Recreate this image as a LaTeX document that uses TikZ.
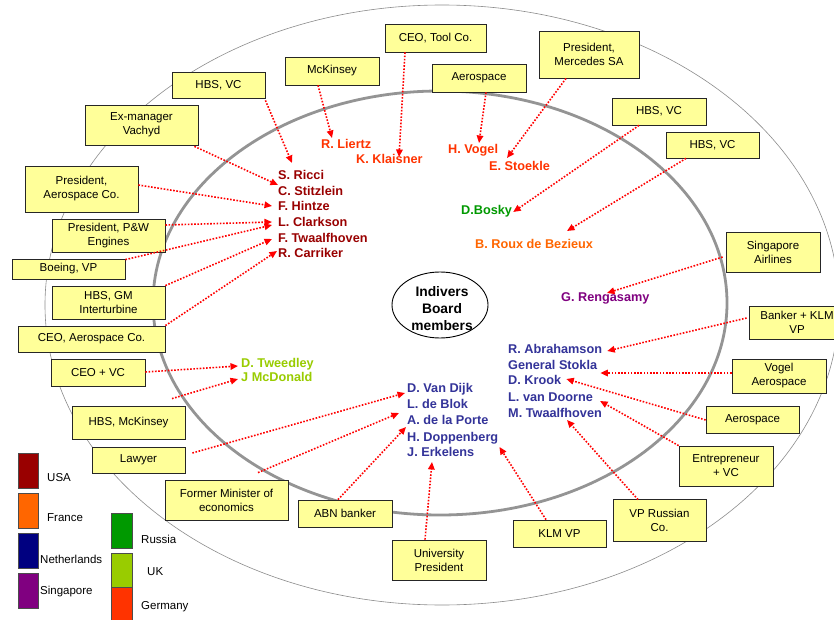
\documentclass[tikz,border=0pt]{standalone}
\usepackage{fontspec}
\setmainfont{Liberation Sans}
\usetikzlibrary{arrows.meta,calc}

\definecolor{boxyellow}{HTML}{FFFF99}
\definecolor{cUSA}{HTML}{990000}
\definecolor{cFrance}{HTML}{FF6600}
\definecolor{cNL}{HTML}{000080}
\definecolor{cNLtext}{HTML}{333399}
\definecolor{cSG}{HTML}{800080}
\definecolor{cRU}{HTML}{009900}
\definecolor{cUK}{HTML}{99CC00}
\definecolor{cDE}{HTML}{FF3300}

\tikzset{
  box/.style={draw=black!85, line width=0.8pt, fill=boxyellow, align=center,
    inner sep=1pt, font=\fontsize{11.5}{14}\selectfont},
  member/.style={anchor=west, inner sep=0pt, text height=9pt, text depth=0pt,
    font=\fontsize{12.7}{15}\selectfont\bfseries},
  link/.style={draw=red, line width=1.6pt, dash pattern=on 1.6pt off 1.6pt,
    -{Triangle[length=7.5pt,width=6.5pt]}},
  swatch/.style={draw=black!70, line width=0.6pt, minimum width=20, minimum height=35, inner sep=0pt},
  legendtext/.style={anchor=west, inner sep=0pt, font=\fontsize{11.5}{14}\selectfont}
}

\begin{document}
\begin{tikzpicture}[x=1pt,y=-1pt]
\useasboundingbox (0,0) rectangle (834,620);
\fill[white] (0,0) rectangle (834,620);

% rings
\draw[black!45, line width=0.6pt] (442,305) ellipse [x radius=397, y radius=300];
\draw[black!42, line width=2.8pt] (440,303) ellipse [x radius=287, y radius=212];
\draw[black, line width=0.9pt] (440,305) ellipse [x radius=48, y radius=33];
\node[align=center, inner sep=0pt, font=\fontsize{13.8}{17}\selectfont\bfseries] (core) at (442,309) {Indivers\\Board\\members};

% board members: USA
\node[member, text=cUSA] (ricci) at (278,175) {S. Ricci};
\node[member, text=cUSA] (stitz) at (278,191) {C. Stitzlein};
\node[member, text=cUSA] (hintze) at (278,206) {F. Hintze};
\node[member, text=cUSA] (clark) at (278,222) {L. Clarkson};
\node[member, text=cUSA] (ftwaal) at (278,238) {F. Twaalfhoven};
\node[member, text=cUSA] (carr) at (278,253) {R. Carriker};
% Germany
\node[member, text=cDE] (liertz) at (321,144) {R. Liertz};
\node[member, text=cDE] (klais) at (356,159) {K. Klaisner};
\node[member, text=cDE] (vogel) at (448,149) {H. Vogel};
\node[member, text=cDE] (stoek) at (489,166) {E. Stoekle};
% Russia, France, Singapore
\node[member, text=cRU] (bosky) at (461,210) {D.Bosky};
\node[member, text=cFrance] (roux) at (475,244) {B. Roux de Bezieux};
\node[member, text=cSG] (reng) at (561,297) {G. Rengasamy};
% Netherlands
\node[member, text=cNLtext] (abrah) at (508,349) {R. Abrahamson};
\node[member, text=cNLtext] (stokla) at (508,365) {General Stokla};
\node[member, text=cNLtext] (krook) at (508,380) {D. Krook};
\node[member, text=cNLtext] (doorne) at (508,397) {L. van Doorne};
\node[member, text=cNLtext] (mtwaal) at (508,413) {M. Twaalfhoven};
\node[member, text=cNLtext] (dijk) at (407,388) {D. Van Dijk};
\node[member, text=cNLtext] (blok) at (407,404) {L. de Blok};
\node[member, text=cNLtext] (porte) at (407,420) {A. de la Porte};
\node[member, text=cNLtext] (dopp) at (407,437) {H. Doppenberg};
\node[member, text=cNLtext] (erkel) at (407,452) {J. Erkelens};
% UK
\node[member, text=cUK] (tweed) at (241,363) {D. Tweedley};
\node[member, text=cUK] (mcdon) at (241,377) {J McDonald};

% background boxes
\node[box, minimum width=101, minimum height=28] (tool) at (435.5,38) {CEO, Tool Co.};
\node[box, minimum width=100, minimum height=47] (merc) at (589,54.5) {President,\\Mercedes SA};
\node[box, minimum width=94, minimum height=28] (aeroA) at (479,78) {Aerospace};
\node[box, minimum width=94, minimum height=27] (hbsvcR) at (659,111.5) {HBS, VC};
\node[box, minimum width=93, minimum height=26] (hbsvcS) at (712.5,145) {HBS, VC};
\node[box, minimum width=94, minimum height=40] (sia) at (773,252) {Singapore\\Airlines};
\node[box, minimum width=96, minimum height=33] (banker) at (797,322.5) {Banker + KLM\\VP};
\node[box, minimum width=94, minimum height=34] (vogaero) at (779,376) {Vogel\\Aerospace};
\node[box, minimum width=93, minimum height=27] (aeroB) at (752.5,419.5) {Aerospace};
\node[box, minimum width=94, minimum height=40] (entre) at (726,466) {Entrepreneur\\+ VC};
\node[box, minimum width=93, minimum height=42] (vprus) at (659.5,520) {VP Russian\\Co.};
\node[box, minimum width=93, minimum height=27] (klmvp) at (559.5,533.5) {KLM VP};
\node[box, minimum width=94, minimum height=40] (univ) at (439,560) {University\\President};
\node[box, minimum width=94, minimum height=27] (abn) at (345,513.5) {ABN banker};
\node[box, minimum width=123, minimum height=40] (formin) at (226.5,500) {Former Minister of\\economics};
\node[box, minimum width=93, minimum height=26] (lawyer) at (138.5,460) {Lawyer};
\node[box, minimum width=113, minimum height=33] (hbsmck) at (128.5,422.5) {HBS, McKinsey};
\node[box, minimum width=94, minimum height=27] (ceovc) at (98,372.5) {CEO + VC};
\node[box, minimum width=147, minimum height=26] (ceoaero) at (91.5,339) {CEO, Aerospace Co.};
\node[box, minimum width=113, minimum height=33] (hbsgm) at (108.5,302.5) {HBS, GM\\Interturbine};
\node[box, minimum width=113, minimum height=20] (boeing) at (68.5,269) {Boeing, VP};
\node[box, minimum width=113, minimum height=33] (pw) at (108.5,235.5) {President, P\&W\\Engines};
\node[box, minimum width=113, minimum height=46] (presaero) at (81.5,189) {President,\\Aerospace Co.};
\node[box, minimum width=113, minimum height=40] (exman) at (141.5,125) {Ex-manager\\Vachyd};
\node[box, minimum width=93, minimum height=26] (hbsvcL) at (218.5,85) {HBS, VC};
\node[box, minimum width=94, minimum height=28] (mck) at (332,71) {McKinsey};

% links from background to member
\draw[link] ($(hbsvcL.south east)+(0,2)$) -- ($(ricci.west)+(14,-12)$);
\draw[link] ($(exman.south east)+(-4,1)$) -- ($(stitz.west)+(0,-6)$);
\draw[link] ($(presaero.east)+(0,-4)$) -- ($(hintze.west)+(-6,0)$);
\draw[link] ($(pw.east)+(0,-10.5)$) -- ($(clark.west)+(-6,0)$);
\draw[link] ($(boeing.north east)+(0,1)$) -- ($(clark.west)+(-6,3)$);
\draw[link] (hbsgm.north east) -- ($(ftwaal.west)+(-6,1)$);
\draw[link] (ceoaero.north east) -- ($(carr.west)+(-1,-2)$);
\draw[link] ($(mck.south)+(-14,0)$) -- ($(liertz.west)+(11,-6)$);
\draw[link] ($(tool.south)+(-30.5,0)$) -- ($(klais.west)+(43,-2)$);
\draw[link] ($(aeroA.south)+(7,0)$) -- ($(vogel.west)+(31,-6)$);
\draw[link] ($(merc.south)+(-23,0)$) -- ($(stoek.west)+(18,-8)$);
\draw[link] ($(hbsvcR.south)+(-20,0)$) -- ($(bosky.east)+(1,2)$);
\draw[link] ($(hbsvcS.south)+(-26.5,0)$) -- ($(roux.west)+(92,-13)$);
\draw[link] ($(sia.west)+(-3,5)$) -- ($(reng.west)+(46,-4)$);
\draw[link] ($(banker.west)+(-2,-4.5)$) -- ($(abrah.east)+(5,2)$);
\draw[link] ($(vogaero.west)+(0,-3)$) -- ($(stokla.east)+(3,8)$);
\draw[link] ($(aeroB.west)+(0,0.5)$) -- ($(krook.east)+(5,-1)$);
\draw[link] (entre.north west) -- ($(doorne.east)+(7,4)$);
\draw[link] ($(vprus.north)+(-21.5,1)$) -- ($(mtwaal.west)+(59,7)$);
\draw[link] ($(klmvp.north)+(-13.5,0)$) -- ($(dopp.east)+(1,10)$);
\draw[link] ($(univ.north)+(-14,0)$) -- ($(erkel.west)+(25,10)$);
\draw[link] ($(abn.north)+(-7,0)$) -- ($(porte.west)+(-1,7)$);
\draw[link] ($(formin.north)+(31.5,-7)$) -- ($(blok.west)+(-8,9)$);
\draw[link] ($(lawyer.east)+(7,-7)$) -- ($(dijk.west)+(-2,5)$);
\draw[link] ($(hbsmck.north)+(43.5,-7)$) -- ($(mcdon.west)+(-3,2)$);
\draw[link] ($(ceovc.east)+(0,-0.5)$) -- ($(tweed.west)+(-3,3)$);

% legend
\node[swatch, fill=cUSA] (swUSA) at (28,470.5) {};
\node[swatch, fill=cFrance] (swFR) at (28,510.5) {};
\node[swatch, fill=cNL] (swNL) at (28,550.5) {};
\node[swatch, fill=cSG] (swSG) at (28,590.5) {};
\node[swatch, fill=cRU, minimum width=21] (swRU) at (121.5,530.5) {};
\node[swatch, fill=cUK, minimum width=21] (swUK) at (121.5,570.5) {};
\node[swatch, fill=cDE, minimum width=21] (swDE) at (121.5,605) {};
\node[legendtext] (lUSA) at (47,478) {USA};
\node[legendtext] (lFR) at (47,518) {France};
\node[legendtext] (lNL) at (40,559) {Netherlands};
\node[legendtext] (lSG) at (40,592) {Singapore};
\node[legendtext] (lRU) at (141,539) {Russia};
\node[legendtext] (lUK) at (147,572) {UK};
\node[legendtext] (lDE) at (141,607) {Germany};
\end{tikzpicture}
\end{document}
